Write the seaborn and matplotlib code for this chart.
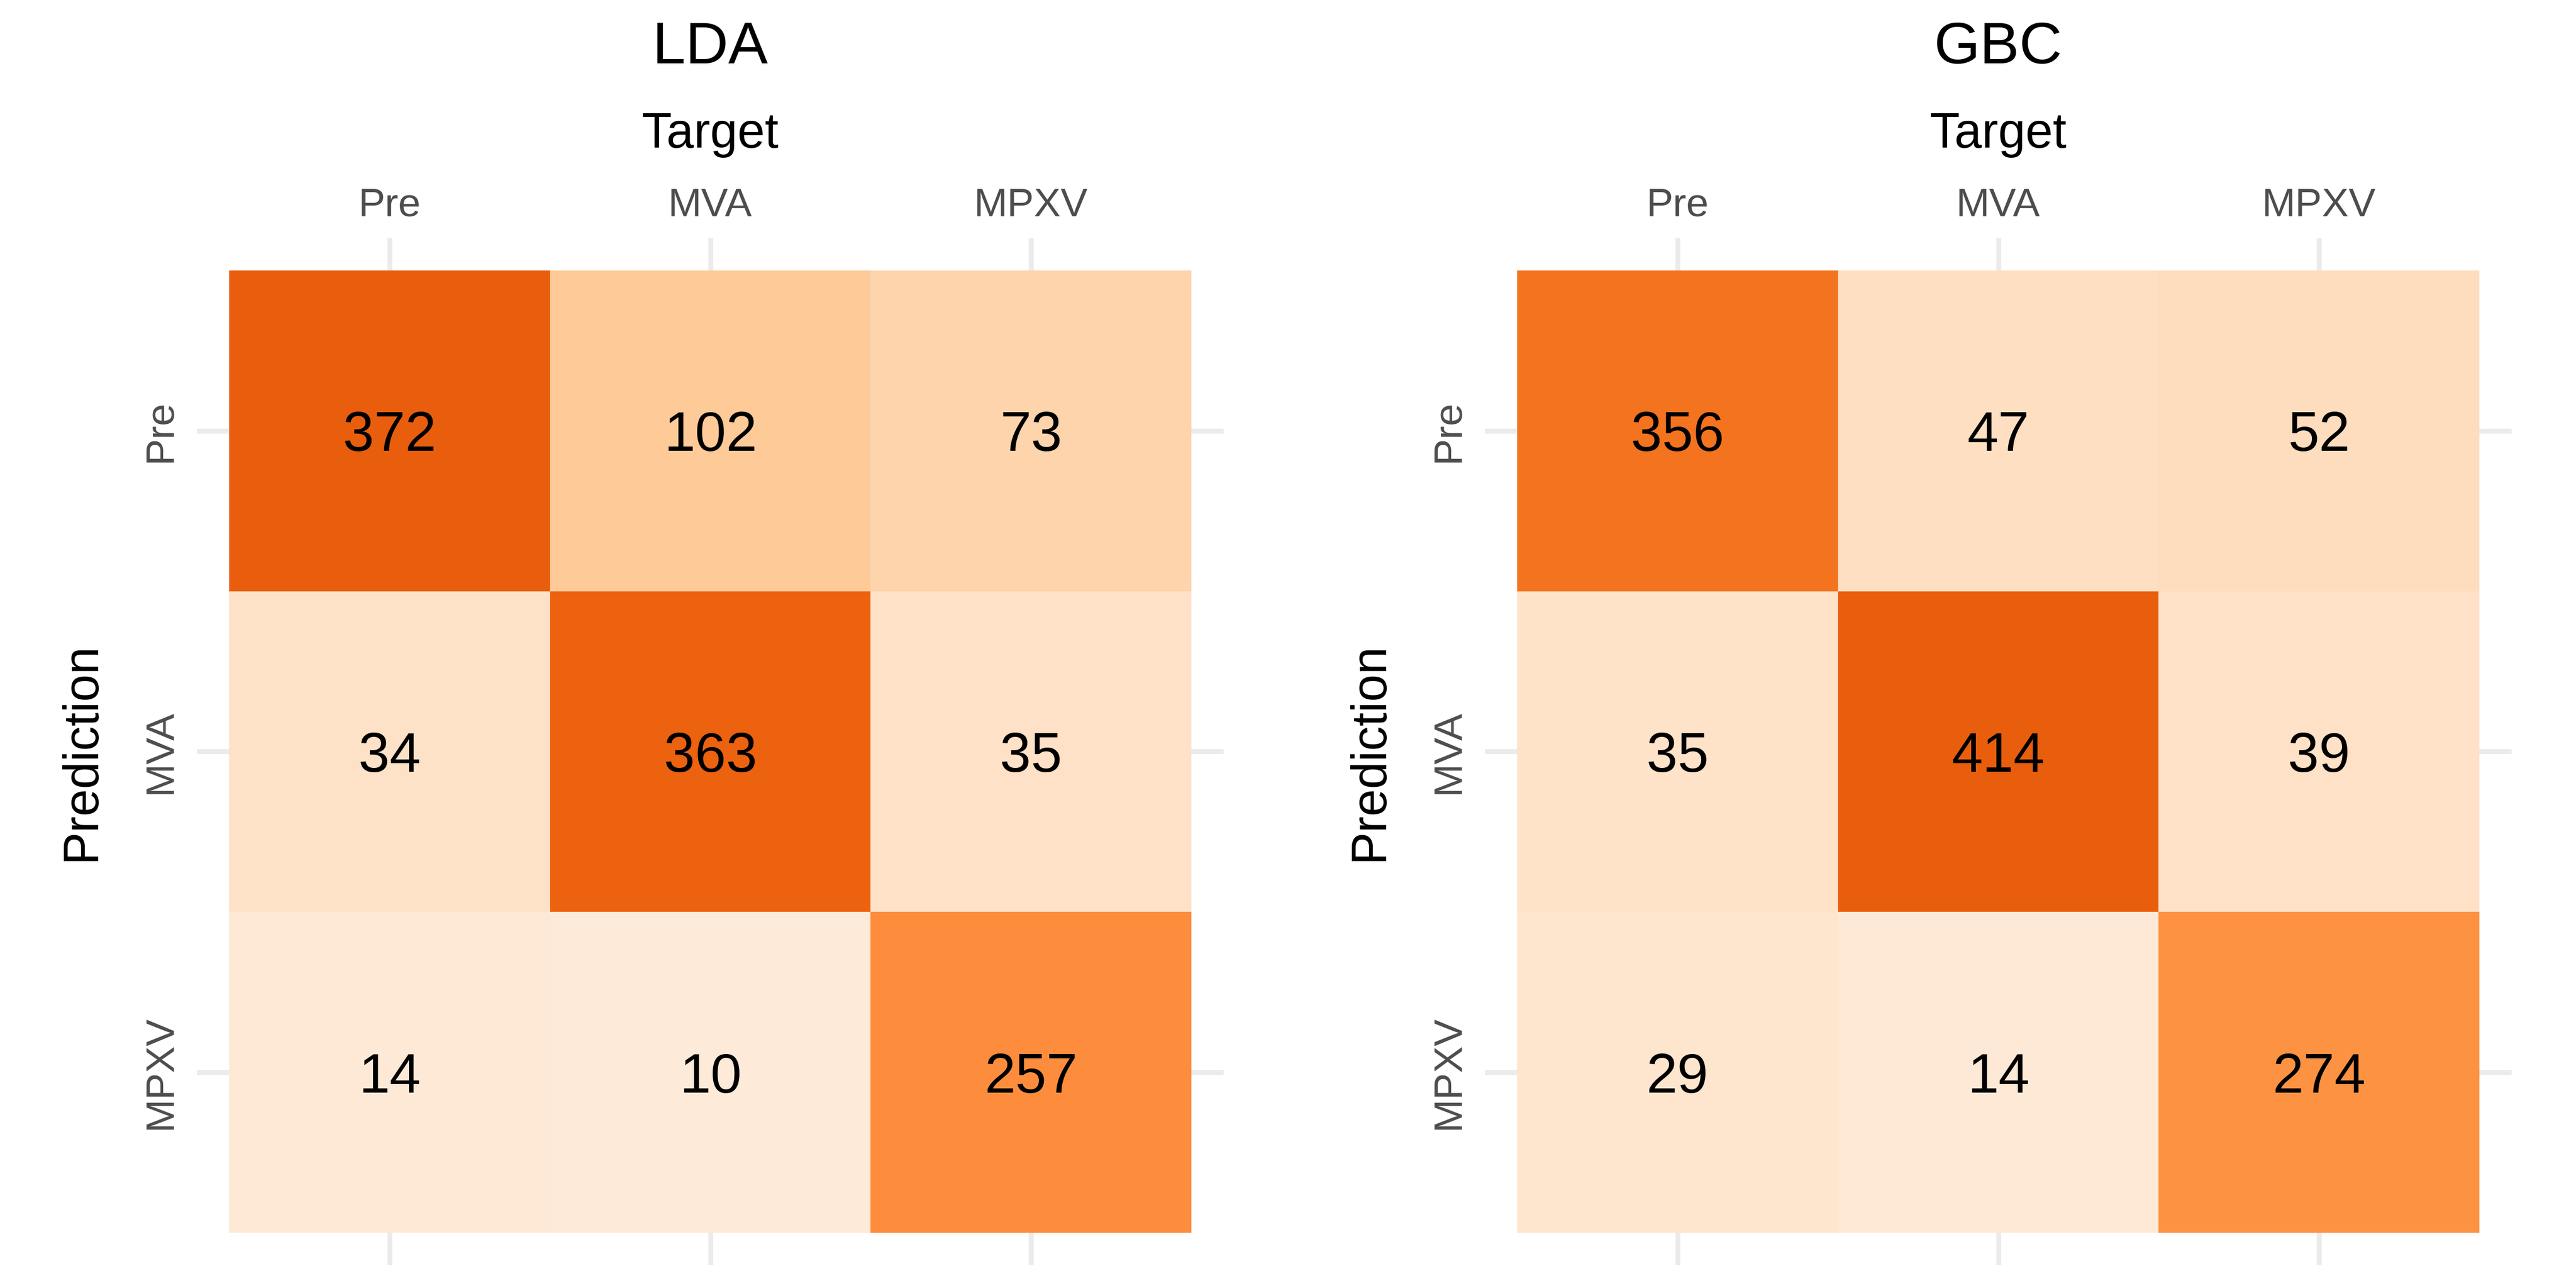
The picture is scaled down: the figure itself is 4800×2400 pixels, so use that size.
import numpy as np
import pandas as pd
import seaborn as sns
import matplotlib.pyplot as plt
from matplotlib.colors import LinearSegmentedColormap

# Class labels (rows = Prediction, columns = Target)
classes = ["Pre", "MVA", "MPXV"]

# Confusion matrix counts
lda_counts = [
    [372, 102, 73],
    [34, 363, 35],
    [14, 10, 257],
]
gbc_counts = [
    [356, 47, 52],
    [35, 414, 39],
    [29, 14, 274],
]

model_names = ["LDA", "GBC"]

sns.set_theme(style="white")
plt.rcParams['font.family'] = ['Liberation Sans', 'DejaVu Sans']

# Brewer "Oranges" (7 colors), the darkest cell only reaches ~72% of the scale
oranges = LinearSegmentedColormap.from_list(
    "oranges7",
    ["#FEEDDE", "#FDD0A2", "#FDAE6B", "#FD8D3C", "#F16913", "#D94801", "#8C2D04"],
)
darkness = 0.72

fig = plt.figure(figsize=(16, 8), dpi=300)
ax_left = fig.add_axes([0.0765, 0.018, 0.3985, 0.797])
ax_right = fig.add_axes([0.5765, 0.018, 0.3985, 0.797])

for ax, name, counts in zip([ax_left, ax_right], model_names, [lda_counts, gbc_counts]):
    df = pd.DataFrame(counts, index=classes, columns=classes)
    vmax = df.values.max() / darkness

    sns.heatmap(
        df, ax=ax, cmap=oranges, vmin=0, vmax=vmax, cbar=False,
        annot=True, fmt="d",
        annot_kws={"fontsize": 25, "color": "black", "va": "center_baseline"},
        linewidths=0, square=False,
    )

    # leave a little panel margin around the tiles like ggplot does
    ax.set_xlim(-0.1, 3.1)
    ax.set_ylim(3.1, -0.1)

    ax.set_axisbelow(True)
    ax.grid(True, color="#EBEBEB", linewidth=2.2)
    for spine in ax.spines.values():
        spine.set_visible(False)

    ax.xaxis.tick_top()
    ax.tick_params(axis="x", length=0, pad=6.3, labelsize=18, labelcolor="#4D4D4D")
    ax.tick_params(axis="y", length=0, pad=8, labelsize=18, labelcolor="#4D4D4D")
    for lbl in ax.get_yticklabels():
        lbl.set_rotation(90)
        lbl.set_va("center")

    ax.xaxis.set_label_position("top")
    ax.set_xlabel("Target", fontsize=22, color="black")
    ax.xaxis.set_label_coords(0.5, 1.101)
    ax.xaxis.label.set_va("center")

    ax.set_ylabel("Prediction", fontsize=22, color="black")
    ax.yaxis.set_label_coords(-0.112, 0.5)
    ax.yaxis.label.set_va("center")

    ax.set_title(name, fontsize=26.5, color="black", y=1.185, va="center", pad=0)

fig.savefig("out.png", dpi=300, facecolor="white")
